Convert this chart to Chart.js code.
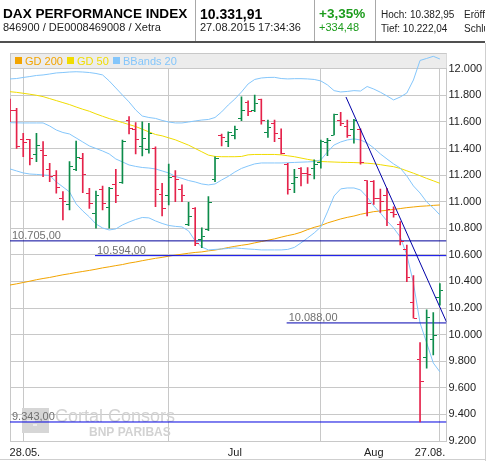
<!DOCTYPE html>
<html><head><meta charset="utf-8">
<script src="https://cdn.jsdelivr.net/npm/chart.js@4.4.1/dist/chart.umd.min.js"></script>
<style>
html,body{margin:0;padding:0;background:#fff;}
#wrap{position:relative;width:490px;height:461px;overflow:hidden;font-family:"Liberation Sans",Arial,sans-serif;}
#c{position:absolute;left:0;top:0;}
#head{position:absolute;left:0;top:0;width:485px;height:44px;overflow:hidden;}
.t{position:absolute;white-space:nowrap;line-height:1;}
.sep{position:absolute;top:0;width:1px;height:42px;background:#a8a8a8;}
#hline{position:absolute;left:0;top:41px;width:485px;height:2px;background:#505050;}
#rline{position:absolute;left:485px;top:43px;width:1px;height:418px;background:#cfcfcf;}
#bline{position:absolute;left:0;top:459px;width:486px;height:1px;background:#cfcfcf;}
</style></head>
<body>
<div id="wrap">
<canvas id="c" width="490" height="461"></canvas>
<div id="head">
  <div class="t" style="left:3px;top:6.8px;font-size:13.6px;font-weight:bold;color:#000">DAX PERFORMANCE INDEX</div>
  <div class="t" style="left:3px;top:22px;font-size:11px;color:#222">846900 / DE0008469008 / Xetra</div>
  <div class="sep" style="left:195px"></div>
  <div class="t" style="left:200px;top:6.5px;font-size:14px;font-weight:bold;color:#000">10.331,91</div>
  <div class="t" style="left:200px;top:22px;font-size:11px;color:#222">27.08.2015 17:34:36</div>
  <div class="sep" style="left:314px"></div>
  <div class="t" style="left:319px;top:6.5px;font-size:13.5px;font-weight:bold;color:#1c9c1c">+3,35%</div>
  <div class="t" style="left:319px;top:22px;font-size:11px;color:#1c9c1c">+334,48</div>
  <div class="sep" style="left:375px"></div>
  <div class="t" style="left:381px;top:10px;font-size:10px;color:#222">Hoch: 10.382,95</div>
  <div class="t" style="left:464px;top:10px;font-size:10px;color:#222">Eröffnung</div>
  <div class="t" style="left:381px;top:24px;font-size:10px;color:#222">Tief: 10.222,04</div>
  <div class="t" style="left:464px;top:24px;font-size:10px;color:#222">Schluss</div>
  <div id="hline"></div>
</div>
<div id="rline"></div>
<div id="bline"></div>
</div>
<script>
// ---------- data ----------
const openVals  = [11750,11682,11464,11464,11351,11381,11244,11196,11026,10975,11244,11326,11058,10913,11088,10955,11126,11143,11614,11544,11413,11389,11401,11056,11050,11188,11088,10825,10945,10712,10792,11163,11494,11456,11501,11622,11747,11682,11765,11517,11589,11477,11276,11138,11251,11214,11251,11293,11447,11501,11609,11564,11544,11539,11156,11150,11020,11045,10917,10825,10637,10238,9810,9825,9960,10276];
const highVals  = [11772,11702,11514,11469,11514,11451,11289,11233,11075,11301,11456,11364,11101,11080,11118,11108,11244,11464,11639,11594,11601,11589,11413,11138,11283,11233,11126,10995,10955,10804,11038,11338,11509,11526,11569,11789,11759,11802,11772,11614,11614,11547,11289,11244,11256,11256,11314,11464,11477,11659,11672,11614,11620,11547,11158,11158,11095,11101,10962,10850,10674,10444,9940,10186,10165,10383];
const lowVals   = [11601,11401,11338,11276,11301,11188,11150,11063,10862,10938,11233,11068,10950,10800,10938,10800,10992,11138,11509,11359,11344,11364,10962,10892,10975,11000,11000,10820,10669,10654,10782,11150,11419,11413,11471,11609,11647,11677,11582,11484,11451,11359,11056,11068,11118,11138,11171,11251,11346,11501,11571,11484,11439,11281,10892,10980,10920,10820,10883,10674,10398,10123,9343,9747,9847,10222];
const closeVals = [11682,11413,11444,11326,11419,11344,11188,11108,11000,11263,11334,11201,10988,11043,10983,11101,11043,11451,11552,11469,11477,11514,11093,10945,11183,11163,11050,10892,10687,10737,10995,11321,11484,11522,11539,11689,11677,11740,11607,11554,11514,11364,11088,11180,11214,11206,11281,11451,11459,11652,11589,11494,11609,11296,10983,11020,11000,10943,10900,10699,10432,10125,9648,10128,9997,10332];

const gd200 = [10373,10382,10392,10402,10413,10422,10430,10440,10450,10458,10467,10475,10483,10492,10502,10510,10519,10527,10538,10546,10556,10565,10574,10581,10590,10598,10605,10612,10618,10622,10630,10636,10645,10655,10664,10672,10679,10690,10700,10710,10720,10733,10745,10755,10770,10790,10807,10820,10840,10855,10870,10882,10892,10905,10915,10925,10930,10935,10942,10948,10955,10960,10965,10968,10972,10975];
const gd50  = [11827,11822,11815,11808,11800,11790,11775,11760,11745,11730,11712,11695,11680,11660,11642,11625,11610,11595,11580,11565,11545,11525,11505,11495,11480,11465,11445,11425,11400,11375,11350,11340,11338,11338,11338,11340,11352,11355,11355,11355,11355,11352,11345,11338,11328,11318,11310,11302,11300,11298,11296,11295,11294,11292,11289,11285,11278,11270,11263,11250,11232,11214,11195,11175,11157,11138];
const bbUpper  = [11923,11926,11934,11941,11949,11953,11960,11968,11971,11975,11977,11975,11971,11964,11953,11908,11855,11802,11750,11690,11644,11633,11626,11611,11599,11592,11592,11599,11607,11614,11618,11633,11675,11727,11772,11825,11885,11919,11930,11934,11935,11926,11923,11925,11925,11923,11919,11908,11878,11835,11825,11829,11835,11832,11866,11847,11823,11795,11765,11787,11817,11915,12062,12077,12093,12073];
const bbMiddle = [11594,11593,11592,11592,11592,11592,11569,11539,11520,11509,11479,11449,11419,11400,11381,11359,11321,11299,11276,11265,11257,11253,11246,11231,11216,11190,11175,11159,11148,11133,11126,11133,11163,11190,11223,11250,11268,11284,11291,11291,11291,11291,11293,11295,11297,11299,11302,11314,11374,11426,11449,11464,11472,11464,11441,11404,11359,11321,11284,11253,11193,11118,11065,10998,10953,10900];
const bbLower  = [11246,11231,11216,11208,11205,11201,11197,11148,11111,11073,10983,10930,10885,10832,10802,10787,10795,10825,10847,10866,10881,10878,10855,10836,10821,10814,10810,10780,10705,10659,10637,10641,10644,10648,10652,10648,10644,10641,10637,10637,10637,10637,10641,10656,10690,10727,10765,10810,10923,11043,11096,11103,11103,11088,11035,10968,10915,10855,10802,10735,10599,10389,10088,9938,9787,9720];

const supportLevels = [10705, 10594, 10088, 9343];
const supportFrom   = [0, 12.85, 41.83, 0];
const supportLabels = ['10.705,00', '10.594,00', '10.088,00', '9.343,00'];
const trendX = [50.8, 66];
const trendY = [11787, 10095];

const xTickLabels = ['28.05.', 'Jul', 'Aug', '27.08.'];
const xLabelPos   = [2.25, 34, 55, 63.5];
const xGridPos    = [0, 2, 24, 47, 65];
const yTicks      = [9200, 9400, 9600, 9800, 10000, 10200, 10400, 10600, 10800, 11000, 11200, 11400, 11600, 11800, 12000];
const legendNames = ['GD 200', 'GD 50', 'BBands 20'];

// ---------- styles ----------
const RED = '#e5224a', GREEN = '#0c8c4a';
const C200 = '#f2a400', C50 = '#f0dc00', CBB = '#84c6fb';
const SUPPORT_COLORS = ['#00009a', '#0000e6', '#0000b0', '#0000e0'];
const FONT = '"Liberation Sans", Arial, sans-serif';

function fmt(v){ return String(Math.round(v)).replace(/\B(?=(\d{3})+(?!\d))/g, '.'); }
function tickImg(color, left){
  const c = document.createElement('canvas'); c.width = 7; c.height = 1;
  const g = c.getContext('2d'); g.fillStyle = color;
  if (left) g.fillRect(0, 0, 3, 1); else g.fillRect(4, 0, 3, 1);
  return c;
}
const imgs = { oR: tickImg(RED, true), oG: tickImg(GREEN, true), cR: tickImg(RED, false), cG: tickImg(GREEN, false) };
const isUp = i => closeVals[i] >= openVals[i];

const pts = arr => arr.map((v, i) => ({ x: i, y: v }));
const lineDs = (arr, color) => ({ type: 'line', data: pts(arr), borderColor: color, borderWidth: 1, pointRadius: 0, tension: 0, order: 10, fill: false });

const datasets = [
  lineDs(bbUpper, CBB), lineDs(bbMiddle, CBB), lineDs(bbLower, CBB),
  lineDs(gd200, C200), lineDs(gd50, C50),
];
supportLevels.forEach((lvl, k) => {
  datasets.push({ type: 'line', data: [{ x: supportFrom[k], y: lvl }, { x: 66, y: lvl }], borderColor: SUPPORT_COLORS[k], borderWidth: 1, pointRadius: 0, order: 5 });
});
datasets.push({
  type: 'bar', data: highVals.map((h, i) => ({ x: i, y: [lowVals[i], h] })),
  backgroundColor: highVals.map((h, i) => isUp(i) ? GREEN : RED),
  barThickness: 1, borderWidth: 0, order: 2, grouped: false
});
datasets.push({ type: 'line', showLine: false, data: pts(openVals), pointStyle: ctx => isUp(ctx.dataIndex) ? imgs.oG : imgs.oR, order: 2 });
datasets.push({ type: 'line', showLine: false, data: pts(closeVals), pointStyle: ctx => isUp(ctx.dataIndex) ? imgs.cG : imgs.cR, order: 2 });
datasets.push({ type: 'line', data: trendX.map((x, k) => ({ x, y: trendY[k] })), borderColor: '#0000a8', borderWidth: 1, pointRadius: 0, order: 1 });

const backPlugin = {
  id: 'back',
  beforeDatasetsDraw(chart) {
    const { ctx, chartArea: a } = chart;
    ctx.save();
    ctx.strokeStyle = '#c8c8c8'; ctx.lineWidth = 1;
    ctx.beginPath(); ctx.moveTo(a.left + 0.5, a.top); ctx.lineTo(a.left + 0.5, a.bottom); ctx.stroke();
    ctx.fillStyle = '#ececec';
    ctx.fillRect(a.left, a.top, a.right - a.left, 15);
    ctx.beginPath(); ctx.moveTo(a.left, a.top + 0.5); ctx.lineTo(a.right, a.top + 0.5); ctx.stroke();
    ctx.beginPath(); ctx.moveTo(a.left + 0.5, a.top); ctx.lineTo(a.left + 0.5, a.top + 16); ctx.stroke();
    const cols = [C200, C50, CBB];
    const sq = [15, 67, 113];
    ctx.font = '11px ' + FONT; ctx.textBaseline = 'alphabetic';
    legendNames.forEach((n, k) => {
      ctx.fillStyle = cols[k];
      ctx.fillRect(sq[k], a.top + 4, 7, 7);
      ctx.fillText(n, sq[k] + 10, a.top + 12);
    });
    ctx.fillStyle = '#d6d6d6';
    ctx.fillRect(22, 408, 27, 25);
    ctx.fillStyle = '#ececec';
    ctx.fillRect(27, 420, 8, 2); ctx.fillRect(33, 424, 4, 2);
    ctx.fillStyle = '#d2d2d2';
    ctx.font = '18px ' + FONT;
    ctx.fillText('Cortal Consors', 55, 422);
    ctx.font = 'bold 12px ' + FONT;
    ctx.fillText('BNP PARIBAS', 89, 436);
    ctx.restore();
  }
};
const labelPlugin = {
  id: 'lbls',
  afterDatasetsDraw(chart) {
    const { ctx, scales: { x, y } } = chart;
    ctx.save();
    ctx.font = '11px ' + FONT; ctx.fillStyle = '#707070'; ctx.textBaseline = 'alphabetic';
    supportLevels.forEach((lvl, k) => {
      ctx.fillText(supportLabels[k], x.getPixelForValue(supportFrom[k]) + 2, y.getPixelForValue(lvl) - 2);
    });
    ctx.restore();
  }
};

const xTickVals = [...new Set([...xGridPos, ...xLabelPos])].sort((a, b) => a - b);

new Chart(document.getElementById('c'), {
  type: 'scatter',
  data: { datasets },
  options: {
    responsive: false, animation: false, devicePixelRatio: 1, events: [],
    layout: { padding: { left: 10, top: 53, right: 0, bottom: 0 } },
    plugins: { legend: { display: false }, tooltip: { enabled: false } },
    scales: {
      x: {
        type: 'linear', min: 0, max: 66, offset: false, position: 'bottom',
        afterBuildTicks: s => { s.ticks = xTickVals.map(v => ({ value: v })); },
        afterFit: s => { s.height = 20; },
        grid: { offset: false, drawTicks: false, color: c => (c.tick && xGridPos.includes(c.tick.value)) ? '#c8c8c8' : 'rgba(0,0,0,0)' },
        border: { color: '#c8c8c8' },
        ticks: { autoSkip: false, maxRotation: 0, padding: 5, color: '#222', font: { family: FONT, size: 11 },
          callback: v => { const k = xLabelPos.indexOf(v); return k >= 0 ? xTickLabels[k] : ''; } }
      },
      y: {
        type: 'linear', position: 'right', min: 9200, max: 12118,
        afterBuildTicks: s => { s.ticks = yTicks.map(v => ({ value: v })); },
        afterFit: s => { s.width = 43.5; },
        grid: { drawTicks: false, color: '#c8c8c8' },
        border: { color: '#c8c8c8' },
        ticks: { padding: 2, color: '#222', font: { family: FONT, size: 11 }, callback: v => fmt(v) }
      }
    }
  },
  plugins: [backPlugin, labelPlugin]
});
</script>
</body></html>
